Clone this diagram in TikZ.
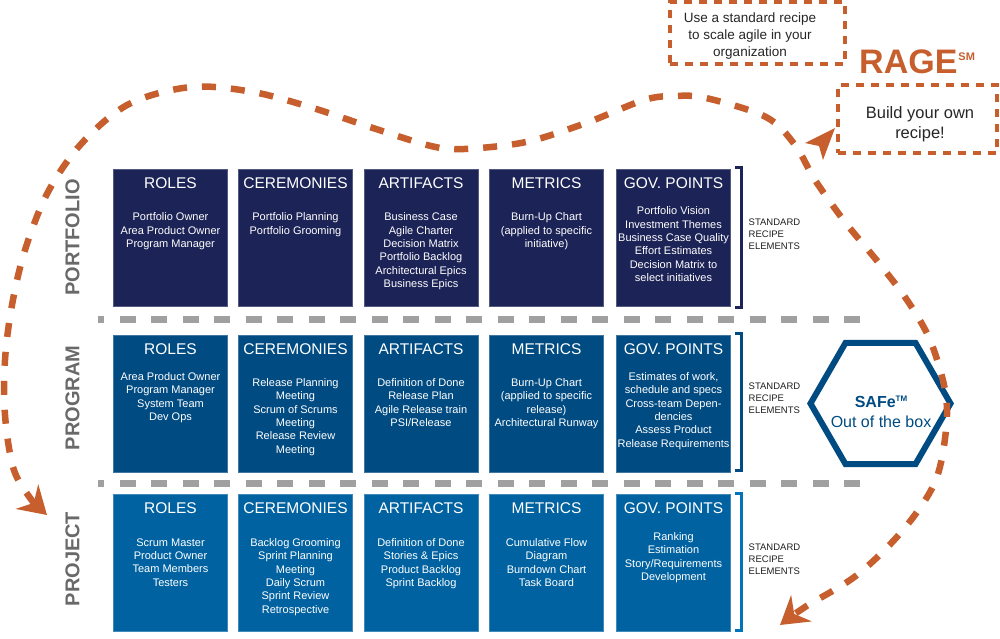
\documentclass[tikz,border=0pt]{standalone}
\usepackage{fontspec}
\setmainfont{Liberation Sans}
\usetikzlibrary{arrows.meta,shapes.geometric}

\definecolor{pfblue}{RGB}{28,35,86}
\definecolor{pgblue}{RGB}{0,75,130}
\definecolor{pjblue}{RGB}{0,98,160}
\definecolor{pjbracket}{RGB}{0,115,185}
\definecolor{ragecol}{RGB}{198,95,45}
\definecolor{rowgray}{RGB}{105,105,105}
\definecolor{sepgray}{RGB}{160,160,160}

\tikzset{
  recipebox/.style={rectangle,minimum width=114pt,minimum height=137pt,
    inner sep=0pt,fill=#1,draw=#1!75!white,line width=0.8pt},
  boxhead/.style={anchor=base,inner sep=0pt,text=white,
    font=\fontsize{15.5}{18}\selectfont},
  boxbody/.style={anchor=north,inner sep=0pt,text=white,align=center,
    font=\fontsize{11}{13.4}\selectfont,execute at begin node=\strut},
  rowlabel/.style={rotate=90,text=rowgray,
    font=\fontsize{20}{24}\selectfont\bfseries},
  stdlabel/.style={anchor=west,inner sep=0pt,align=left,text=black!88,
    font=\fontsize{9.5}{12}\selectfont},
  bracket/.style={line width=3pt},
  rowsep/.style={draw=sepgray,line width=7pt,dash pattern=on 16pt off 15.5pt,
    dash phase=10pt},
  ragepath/.style={draw=ragecol,line width=6.5pt,dash pattern=on 14pt off 15pt,
    arrows={Stealth[length=27pt,width=33pt,inset=9pt]-Stealth[length=27pt,width=33pt,inset=9pt]}},
  ragebox/.style={rectangle,draw=ragecol,line width=4pt,
    dash pattern=on 8pt off 7pt,inner sep=0pt},
  ragetext/.style={anchor=north,inner sep=0pt,align=center,text=black!85,
    execute at begin node=\strut}
}

% name, x, top, colour, header, first baseline offset, body
\newcommand{\recipebox}[7]{
  \node [recipebox=#4,anchor=north] (#1) at (#2,#3) {};
  \node [boxhead] (#1-head) at (#2,#3+19.5) {#5};
  \node [boxbody] (#1-body) at (#2,#3+#6-9.38) {#7};
}

\begin{document}
\begin{tikzpicture}[x=1pt,y=-1pt]
  \useasboundingbox (0,0) rectangle (1000,638);

  % portfolio
  \recipebox{pf-roles}{170.5}{169}{pfblue}{ROLES}{53}
    {Portfolio Owner\\Area Product Owner\\Program Manager}
  \recipebox{pf-cer}{295.5}{169}{pfblue}{CEREMONIES}{53}
    {Portfolio Planning\\Portfolio Grooming}
  \recipebox{pf-art}{421}{169}{pfblue}{ARTIFACTS}{53}
    {Business Case\\Agile Charter\\Decision Matrix\\Portfolio Backlog\\Architectural Epics\\Business Epics}
  \recipebox{pf-met}{546.5}{169}{pfblue}{METRICS}{53}
    {Burn-Up Chart\\(applied to specific\\initiative)}
  \recipebox{pf-gov}{673.5}{169}{pfblue}{GOV. POINTS}{47}
    {Portfolio Vision\\Investment Themes\\Business Case Quality\\Effort Estimates\\Decision Matrix to\\select initiatives}

  % program
  \recipebox{pg-roles}{170.5}{335}{pgblue}{ROLES}{46.5}
    {Area Product Owner\\Program Manager\\System Team\\Dev Ops}
  \recipebox{pg-cer}{295.5}{335}{pgblue}{CEREMONIES}{52.5}
    {Release Planning\\Meeting\\Scrum of Scrums\\Meeting\\Release Review\\Meeting}
  \recipebox{pg-art}{421}{335}{pgblue}{ARTIFACTS}{52.5}
    {Definition of Done\\Release Plan\\Agile Release train\\PSI/Release}
  \recipebox{pg-met}{546.5}{335}{pgblue}{METRICS}{52.5}
    {Burn-Up Chart\\(applied to specific\\release)\\Architectural Runway}
  \recipebox{pg-gov}{673.5}{335}{pgblue}{GOV. POINTS}{46.5}
    {Estimates of work,\\schedule and specs\\Cross-team Depen-\\dencies\\Assess Product\\Release Requirements}

  % project
  \recipebox{pj-roles}{170.5}{494}{pjblue}{ROLES}{53.5}
    {Scrum Master\\Product Owner\\Team Members\\Testers}
  \recipebox{pj-cer}{295.5}{494}{pjblue}{CEREMONIES}{53.5}
    {Backlog Grooming\\Sprint Planning\\Meeting\\Daily Scrum\\Sprint Review\\Retrospective}
  \recipebox{pj-art}{421}{494}{pjblue}{ARTIFACTS}{53.5}
    {Definition of Done\\Stories \& Epics\\Product Backlog\\Sprint Backlog}
  \recipebox{pj-met}{546.5}{494}{pjblue}{METRICS}{53.5}
    {Cumulative Flow\\Diagram\\Burndown Chart\\Task Board}
  \recipebox{pj-gov}{673.5}{494}{pjblue}{GOV. POINTS}{47.5}
    {Ranking\\Estimation\\Story/Requirements\\Development}

  \node [rowlabel] (pf-label) at (72.5,237.5) {PORTFOLIO};
  \node [rowlabel] (pg-label) at (72.5,398) {PROGRAM};
  \node [rowlabel] (pj-label) at (72.5,559) {PROJECT};

  \draw [rowsep] (98,319) -- (867,319);
  \draw [rowsep] (98,483) -- (867,483);

  \draw [bracket,draw=pfblue] (735,167) -- (741,167) -- (741,307) -- (735,307);
  \draw [bracket,draw=pgblue] (735,333) -- (741,333) -- (741,470) -- (735,470);
  \draw [bracket,draw=pjbracket] (735,493) -- (741,493) -- (741,630) -- (735,630);

  \node [stdlabel] (pf-std) at (748.5,234) {STANDARD\\RECIPE\\ELEMENTS};
  \node [stdlabel] (pg-std) at (748.5,398) {STANDARD\\RECIPE\\ELEMENTS};
  \node [stdlabel] (pj-std) at (748.5,559) {STANDARD\\RECIPE\\ELEMENTS};

  \node [regular polygon,regular polygon sides=6,minimum size=140pt,
    inner sep=0pt,draw=pgblue,line width=6pt] (safe) at (880.5,403.5) {};
  \node [ragetext,text=pgblue,font=\fontsize{16}{20}\selectfont]
    (safe-text) at (881,395.5) {\textbf{SAFe}\raisebox{6pt}{\fontsize{8}{8}\selectfont\bfseries TM}\\Out of the box};

  % recipe boxes
  \node [ragebox,minimum width=175pt,minimum height=62pt] (scale-box) at (757.5,33) {};
  \node [ragetext,font=\fontsize{13.5}{17}\selectfont] (scale-text) at (750,13)
    {Use a standard recipe\\to scale agile in your\\organization};
  \node [anchor=base west,inner sep=0pt,text=ragecol,font=\fontsize{34}{34}\selectfont\bfseries]
    (rage) at (859,73) {RAGE\kern1pt\raisebox{13pt}{\fontsize{11}{11}\selectfont\bfseries SM}};
  \node [ragebox,minimum width=159pt,minimum height=68pt] (own-box) at (917.5,119) {};
  \node [ragetext,font=\fontsize{16.5}{20}\selectfont] (own-text) at (920,106)
    {Build your own\\recipe!};

  % orange path
  \coordinate (tipL) at (47,515);
  \coordinate (l1) at (28,495);
  \coordinate (l2) at (13,467);
  \coordinate (l3) at (5,415);
  \coordinate (l4) at (5,360);
  \coordinate (l5) at (12,305);
  \coordinate (l6) at (25,250);
  \coordinate (l7) at (48,192);
  \coordinate (l8) at (82,143);
  \coordinate (l9) at (129,104);
  \coordinate (w1) at (191,87);
  \coordinate (w2) at (253,92);
  \coordinate (w3) at (313,108);
  \coordinate (w4) at (373,128);
  \coordinate (w5) at (431,146);
  \coordinate (w6) at (464,149);
  \coordinate (w7) at (526,142);
  \coordinate (w8) at (586,123);
  \coordinate (w9) at (644,100);
  \coordinate (w10) at (675,96);
  \coordinate (w11) at (706,98);
  \coordinate (w12) at (766,117);
  \coordinate (w13) at (795,145);
  \coordinate (r1) at (815,180);
  \coordinate (r2) at (845,222);
  \coordinate (r3) at (878,262);
  \coordinate (r4) at (907,300);
  \coordinate (r5) at (930,340);
  \coordinate (r6) at (945,390);
  \coordinate (r7) at (946,430);
  \coordinate (r8) at (935,482);
  \coordinate (r9) at (903,530);
  \coordinate (r10) at (857,575);
  \coordinate (r11) at (805,607);
  \coordinate (tipR) at (780,625);

  \draw [ragepath] plot [smooth,tension=0.55] coordinates {(tipL) (l1) (l2) (l3) (l4) (l5)
    (l6) (l7) (l8) (l9) (w1) (w2) (w3) (w4) (w5) (w6) (w7) (w8) (w9) (w10) (w11) (w12)
    (w13) (r1) (r2) (r3) (r4) (r5) (r6) (r7) (r8) (r9) (r10) (r11) (tipR)};

  % branch tip to build your own
  \coordinate (hooktip) at (835,128);
  \coordinate (hookleft) at (805,143);
  \coordinate (hookback) at (819,146);
  \coordinate (hookright) at (823,160);
  \fill [ragecol] (hooktip) -- (hookleft) -- (hookback) -- (hookright) -- cycle;
\end{tikzpicture}
\end{document}
